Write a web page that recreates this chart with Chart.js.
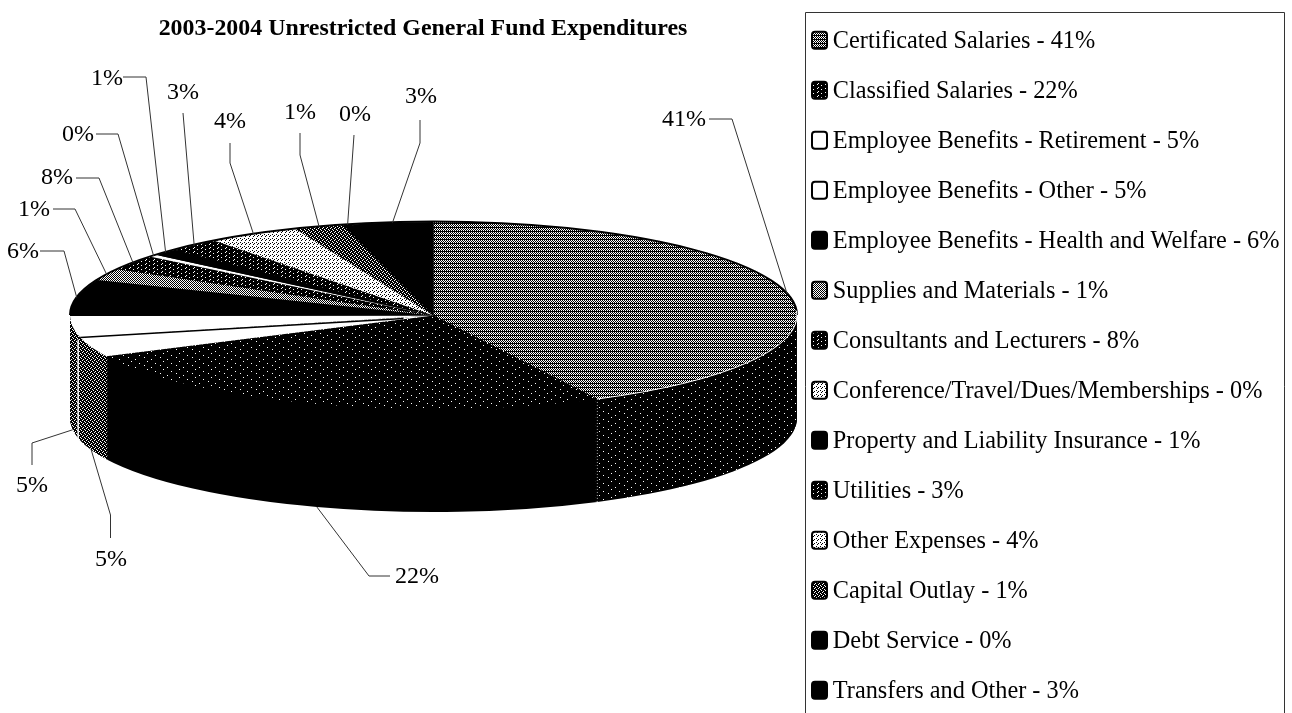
<!DOCTYPE html>
<html>
<head>
<meta charset="utf-8">
<title>2003-2004 Unrestricted General Fund Expenditures</title>
<style>
  html, body { margin: 0; padding: 0; background: #fff; overflow: hidden; }
  canvas { display: block; }
</style>
<script src="https://cdn.jsdelivr.net/npm/chart.js@4/dist/chart.umd.min.js"></script>
</head>
<body>
<canvas id="pie_chart" width="1292" height="760"></canvas>
<script>
var chart_title = '2003-2004 Unrestricted General Fund Expenditures';

var categories = [
  'Certificated Salaries', 'Classified Salaries', 'Employee Benefits - Retirement',
  'Employee Benefits - Other', 'Employee Benefits - Health and Welfare',
  'Supplies and Materials', 'Consultants and Lecturers', 'Conference/Travel/Dues/Memberships',
  'Property and Liability Insurance', 'Utilities', 'Other Expenses', 'Capital Outlay',
  'Debt Service', 'Transfers and Other'
];

// the percentages printed on the chart
var printed_percents = [41, 22, 5, 5, 6, 1, 8, 0, 1, 3, 4, 1, 0, 3];

// wedge sizes (its perspective stretches the front slices)
var drawn_shares = [42.6, 25.3, 3.4, 3.7, 6.3, 2, 2.6, 0.4, 1.2, 2.3, 4.1, 2.2, 0.4, 3.6];

// halftone tiles
var tiles = {
  black: ['#'],
  white: ['.'],
  bands: ['#.#.', '.#.#', '#.#.', '####'],
  half: ['#.', '.#'],
  dark: ['#.######', '#####.##', '########', '##.#####'],
  sparse: ['################', '###.############', '################', '###########.####', '################', '.###############', '################', '#######.########'],
  mid: ['##.#', '.###', '#.##', '###.'],
  light: ['.#..', '....', '#...', '..#.']
};
var top_tiles = ['bands', 'sparse', 'white', 'white', 'black', 'half', 'dark', 'white', 'black', 'dark', 'light', 'mid', 'black', 'black'];
var side_tiles = ['sparse', 'black', 'mid', 'mid', 'black', 'black', 'black', 'black', 'black', 'black', 'black', 'black', 'black', 'black'];
var legend_tiles = ['bands', 'dark', 'white', 'white', 'black', 'half', 'dark', 'light', 'black', 'dark', 'light', 'mid', 'black', 'black'];

// where each percent label sits, and the elbow of its leader line
var label_spots = [
  { x: 684, y: 120, from: [709, 119], elbow: [732, 119] },
  { x: 417, y: 577, from: [390, 576], elbow: [369, 576], front: true },
  { x: 111, y: 560, from: [110.5, 538], elbow: [110.5, 515], front: true },
  { x: 32, y: 486, from: [32, 465], elbow: [32, 443], front: true },
  { x: 23, y: 252, from: [40, 251], elbow: [64, 251] },
  { x: 34, y: 210, from: [53, 209], elbow: [75, 209] },
  { x: 57, y: 178, from: [76, 178], elbow: [99, 178] },
  { x: 78, y: 135, from: [96, 134], elbow: [118, 134] },
  { x: 107, y: 79, from: [123, 77], elbow: [146, 77] },
  { x: 183, y: 93, from: [183, 113], elbow: [183, 113] },
  { x: 230, y: 122, from: [230, 143], elbow: [230, 163] },
  { x: 300, y: 113, from: [300, 133], elbow: [300, 155] },
  { x: 355, y: 115, from: [354, 135], elbow: [354, 135] },
  { x: 421, y: 97, from: [420, 120], elbow: [420, 143] }
];

var pie_shape = { cx: 433.5, cy: 315.5, rx: 363.5, ry: 93.5, depth: 103 };

var make_pattern = function(ctx, rows) {
  var tile = document.createElement('canvas');
  tile.width = rows[0].length;
  tile.height = rows.length;
  var tile_ctx = tile.getContext('2d');
  tile_ctx.fillStyle = '#fff';
  tile_ctx.fillRect(0, 0, tile.width, tile.height);
  tile_ctx.fillStyle = '#000';
  for (var y = 0; y < rows.length; y++) {
    for (var x = 0; x < rows[y].length; x++) {
      if (rows[y][x] === '#') {
        tile_ctx.fillRect(x, y, 1, 1);
      }
    }
  }
  return ctx.createPattern(tile, 'repeat');
};

var canvas = document.getElementById('pie_chart');
var base_ctx = canvas.getContext('2d');
var top_patterns = top_tiles.map(function(name) { return make_pattern(base_ctx, tiles[name]); });
var side_patterns = side_tiles.map(function(name) { return make_pattern(base_ctx, tiles[name]); });
var legend_patterns = legend_tiles.map(function(name) { return make_pattern(base_ctx, tiles[name]); });

// squash the arcs into an ellipse, and keep the halftone pinned to the page
var apply_squash = function(ctx, arc, shift, patterns) {
  var sx = pie_shape.rx / arc.outerRadius;
  var sy = pie_shape.ry / arc.outerRadius;
  ctx.translate(pie_shape.cx, pie_shape.cy + shift);
  ctx.scale(sx, sy);
  ctx.translate(-arc.x, -arc.y);
  ctx.imageSmoothingEnabled = false;
  var undo = ctx.getTransform().inverse();
  patterns.forEach(function(p) { p.setTransform(undo); });
};

var ellipse_point = function(angle, shift) {
  return [
    pie_shape.cx + pie_shape.rx * Math.cos(angle),
    pie_shape.cy + pie_shape.ry * Math.sin(angle) + shift
  ];
};

var tilt_plugin = {
  id: 'tilt',
  beforeDatasetsDraw: function(chart) {
    var ctx = chart.ctx;
    var arcs = chart.getDatasetMeta(0).data;

    // stack the arcs downwards for the side wall
    for (var shift = pie_shape.depth; shift > 0; shift--) {
      ctx.save();
      apply_squash(ctx, arcs[0], shift, side_patterns);
      for (var i = 0; i < arcs.length; i++) {
        var keep = arcs[i].options;
        arcs[i].options = Object.assign({}, keep, { backgroundColor: side_patterns[i], borderWidth: 0 });
        arcs[i].draw(ctx, chart.chartArea);
        arcs[i].options = keep;
      }
      ctx.restore();
    }
    ctx.save();
    apply_squash(ctx, arcs[0], 0, top_patterns);
  },
  afterDatasetsDraw: function(chart) {
    var ctx = chart.ctx;
    ctx.restore();
    var arcs = chart.getDatasetMeta(0).data;

    // dark rim along the back of the pie
    ctx.strokeStyle = '#000';
    ctx.lineWidth = 2;
    ctx.beginPath();
    ctx.ellipse(pie_shape.cx, pie_shape.cy - 0.5, pie_shape.rx, pie_shape.ry, 0, Math.PI, Math.PI * 2);
    ctx.stroke();

    // line between the two white benefit slices
    var p = ellipse_point(arcs[2].endAngle, 0);
    ctx.lineWidth = 1.5;
    ctx.beginPath();
    ctx.moveTo(pie_shape.cx - 30, pie_shape.cy + 3);
    ctx.lineTo(p[0], p[1]);
    ctx.stroke();

    // pale edge where the first slice meets its wall
    ctx.strokeStyle = '#fff';
    ctx.lineWidth = 1;
    ctx.beginPath();
    ctx.ellipse(pie_shape.cx, pie_shape.cy, pie_shape.rx, pie_shape.ry, 0, -0.05, arcs[0].endAngle);
    ctx.stroke();

    // pale seam down the wall between the white slices
    ctx.lineWidth = 1.5;
    ctx.beginPath();
    ctx.moveTo(p[0] - 2, p[1] + 2);
    ctx.lineTo(p[0] - 2, p[1] + pie_shape.depth - 1);
    ctx.stroke();

    // dotted seam down the wall between the first two slices
    var seam = ellipse_point(arcs[0].endAngle, 0);
    ctx.strokeStyle = '#aaa';
    ctx.lineWidth = 1;
    ctx.setLineDash([1, 2]);
    ctx.beginPath();
    ctx.moveTo(seam[0], seam[1]);
    ctx.lineTo(seam[0], seam[1] + pie_shape.depth);
    ctx.stroke();
    ctx.setLineDash([]);
  },
  afterDraw: function(chart) {
    var ctx = chart.ctx;
    var arcs = chart.getDatasetMeta(0).data;
    var i;

    // leader lines and percent labels
    ctx.font = '24px "Liberation Serif"';
    ctx.textAlign = 'center';
    ctx.textBaseline = 'middle';
    for (i = 0; i < arcs.length; i++) {
      var spot = label_spots[i];
      var mid = (arcs[i].startAngle + arcs[i].endAngle) / 2;
      var touch = ellipse_point(mid, spot.front ? pie_shape.depth : 0);
      ctx.strokeStyle = '#333';
      ctx.lineWidth = 1;
      ctx.beginPath();
      ctx.moveTo(spot.from[0], spot.from[1]);
      ctx.lineTo(spot.elbow[0], spot.elbow[1]);
      ctx.lineTo(touch[0], touch[1]);
      ctx.stroke();
      ctx.fillStyle = '#000';
      ctx.fillText(printed_percents[i] + '%', spot.x, spot.y);
    }

    // legend frame, open at the bottom of the page
    ctx.strokeStyle = '#333';
    ctx.lineWidth = 1;
    ctx.beginPath();
    ctx.moveTo(805.5, 760);
    ctx.lineTo(805.5, 12.5);
    ctx.lineTo(1284.5, 12.5);
    ctx.lineTo(1284.5, 760);
    ctx.stroke();

    // legend swatches
    var boxes = chart.legend.legendHitBoxes;
    for (i = 0; i < boxes.length; i++) {
      var top = boxes[i].top + boxes[i].height / 2 - 10;
      ctx.beginPath();
      ctx.roundRect(812, top, 15, 17, 3);
      ctx.fillStyle = legend_patterns[i];
      ctx.fill();
      ctx.strokeStyle = '#000';
      ctx.lineWidth = 2;
      ctx.stroke();
    }
  }
};

Chart.defaults.font.family = '"Liberation Serif"';
Chart.defaults.color = '#000';

var pie_chart = new Chart(canvas, {
  type: 'pie',
  plugins: [tilt_plugin],
  data: {
    labels: categories,
    datasets: [{
      data: drawn_shares,
      backgroundColor: top_patterns,
      borderWidth: 0,
      clip: false
    }]
  },
  options: {
    responsive: false,
    animation: false,
    events: [],
    layout: { padding: { left: 55, right: 2.5, top: 4, bottom: 0 } },
    plugins: {
      tooltip: { enabled: false },
      title: {
        display: true,
        text: chart_title,
        fullSize: false,
        font: { size: 23.9, weight: 'bold' },
        padding: { top: 10, bottom: 6 }
      },
      legend: {
        position: 'right',
        align: 'start',
        labels: {
          boxWidth: 4,
          boxHeight: 4,
          padding: 25.7,
          font: { size: 24.3 },
          generateLabels: function(chart) {
            return categories.map(function(name, i) {
              return {
                text: name + ' - ' + printed_percents[i] + '%',
                fillStyle: 'transparent',
                strokeStyle: 'transparent',
                lineWidth: 0,
                index: i
              };
            });
          }
        }
      }
    }
  }
});
</script>
</body>
</html>
